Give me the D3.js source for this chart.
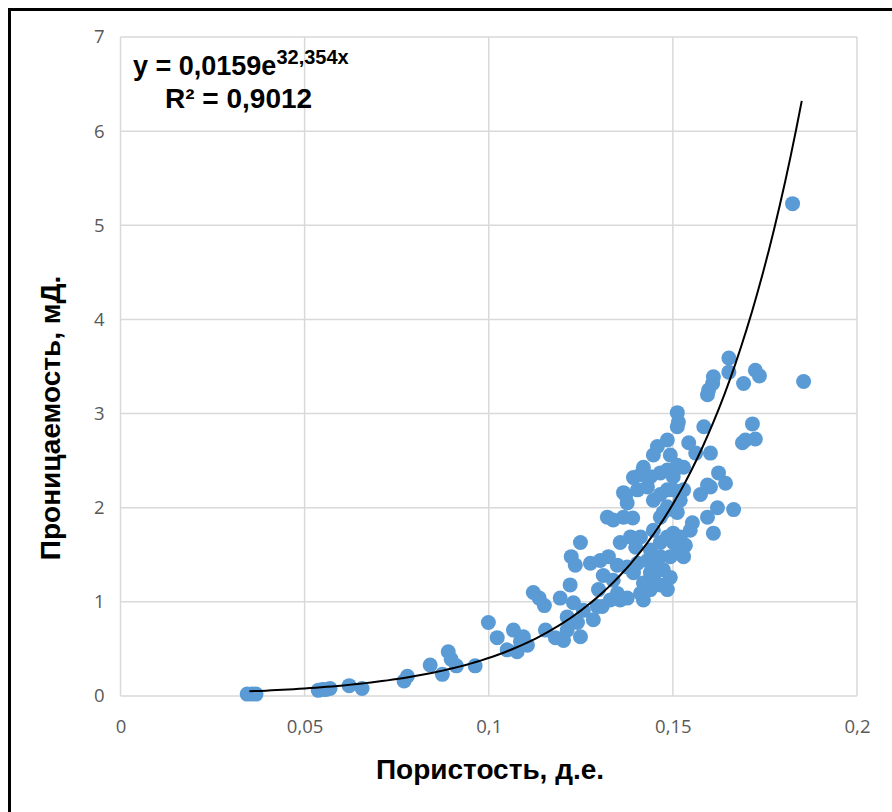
<!DOCTYPE html>
<html>
<head>
<meta charset="utf-8">
<script src="https://cdn.jsdelivr.net/npm/d3@7"></script>
<style>
  body { margin: 0; background: #fff; }
  .tick text { font-family: "Open Sans", "Liberation Sans", Arial, sans-serif; fill: #595959; font-size: 18.5px; }
</style>
</head>
<body>
<svg></svg>
<script>
// porosity (д.е.) and permeability (мД)
const porosity = [
  0.0344, 0.0357, 0.0368, 0.0537, 0.0548, 0.0558, 0.0569, 0.0621, 0.0656, 0.0770,
  0.0779, 0.0841, 0.0874, 0.0890, 0.0898, 0.0912, 0.0963, 0.0999, 0.1023, 0.1050,
  0.1067, 0.1077, 0.1086, 0.1094, 0.1105, 0.1121, 0.1137, 0.1151, 0.1154, 0.1181,
  0.1194, 0.1203, 0.1213, 0.1213, 0.1221, 0.1224, 0.1230, 0.1235, 0.1241, 0.1249,
  0.1249, 0.1257, 0.1276, 0.1284, 0.1295, 0.1298, 0.1303, 0.1308, 0.1322, 0.1325,
  0.1338, 0.1338, 0.1349, 0.1349, 0.1357, 0.1357, 0.1366, 0.1366, 0.1376, 0.1376,
  0.1376, 0.1385, 0.1391, 0.1393, 0.1393, 0.1399, 0.1404, 0.1404, 0.1412, 0.1412,
  0.1412, 0.1420, 0.1420, 0.1431, 0.1431, 0.1439, 0.1439, 0.1439, 0.1447, 0.1447,
  0.1447, 0.1447, 0.1458, 0.1458, 0.1466, 0.1466, 0.1466, 0.1466, 0.1466, 0.1474,
  0.1474, 0.1485, 0.1485, 0.1485, 0.1485, 0.1485, 0.1493, 0.1493, 0.1493, 0.1501,
  0.1501, 0.1501, 0.1501, 0.1501, 0.1512, 0.1515, 0.1512, 0.1512, 0.1512, 0.1512,
  0.1520, 0.1520, 0.1529, 0.1529, 0.1529, 0.1543, 0.1553, 0.1562, 0.1575, 0.1584,
  0.1594, 0.1597, 0.1608, 0.1610, 0.1594, 0.1594, 0.1602, 0.1602, 0.1610, 0.1624,
  0.1621, 0.1643, 0.1652, 0.1652, 0.1665, 0.1692, 0.1689, 0.1697, 0.1716, 0.1724,
  0.1724, 0.1735, 0.1825, 0.1855, 0.1372, 0.1420, 0.1439, 0.1466, 0.1485, 0.1534,
  0.1547, 0.1311, 0.1330
];
const permeability = [
  0.02, 0.02, 0.02, 0.06, 0.07, 0.07, 0.08, 0.11, 0.08, 0.16,
  0.21, 0.33, 0.23, 0.47, 0.39, 0.32, 0.32, 0.78, 0.62, 0.49,
  0.70, 0.47, 0.58, 0.63, 0.54, 1.10, 1.04, 0.96, 0.70, 0.62,
  1.04, 0.59, 0.84, 0.70, 1.18, 1.48, 0.99, 1.39, 0.78, 1.63,
  0.63, 0.91, 1.41, 0.81, 0.95, 1.13, 1.44, 0.95, 1.90, 1.48,
  1.87, 1.23, 1.39, 1.09, 1.63, 1.02, 2.16, 1.90, 2.05, 1.37,
  1.04, 1.69, 1.89, 2.32, 1.31, 1.58, 1.41, 2.19, 2.35, 1.69,
  1.09, 2.43, 1.20, 2.22, 1.44, 2.33, 1.55, 1.31, 2.56, 2.08,
  1.76, 1.26, 2.65, 1.36, 2.37, 2.14, 1.90, 1.63, 1.48, 1.95,
  1.34, 2.72, 2.40, 2.19, 2.01, 1.69, 2.56, 1.48, 1.26, 2.33,
  2.19, 1.98, 1.73, 1.63, 3.01, 2.91, 2.86, 2.45, 1.95, 1.58,
  2.08, 1.69, 2.43, 2.19, 1.48, 2.69, 1.84, 2.58, 2.14, 2.86,
  3.20, 3.25, 3.32, 3.39, 2.24, 1.90, 2.58, 2.22, 1.73, 2.37,
  2.00, 2.26, 3.59, 3.44, 1.98, 3.32, 2.69, 2.72, 2.89, 2.73,
  3.46, 3.40, 5.23, 3.34, 2.13, 1.02, 1.13, 1.18, 1.13, 1.60,
  1.76, 1.28, 1.02
];
const xTicks = [0, 0.05, 0.1, 0.15, 0.2];
const yTicks = [0, 1, 2, 3, 4, 5, 6, 7];
const trendA = 0.0159;
const trendB = 32.354;
const trendRange = [0.035, 0.185];
const r2 = "0,9012";

const width = 892, height = 812;
const plot = { left: 120.5, right: 857, top: 37, bottom: 696 };
const boldFont = '"Liberation Sans", Arial, sans-serif';

const svg = d3.select('svg').attr('width', width).attr('height', height);

const x = d3.scaleLinear().domain([0, 0.2]).range([plot.left, plot.right]);
const y = d3.scaleLinear().domain([0, 7]).range([plot.bottom, plot.top]);
const fmt = v => String(v).replace('.', ',');

// outer frame
svg.append('rect')
  .attr('x', 9.5).attr('y', 9.5).attr('width', 900).attr('height', 900)
  .attr('fill', 'none').attr('stroke', '#000').attr('stroke-width', 3);

// gridlines
svg.append('g')
  .selectAll('line').data(xTicks).join('line')
  .attr('x1', d => x(d)).attr('x2', d => x(d))
  .attr('y1', plot.top).attr('y2', plot.bottom)
  .attr('stroke', '#d9d9d9').attr('stroke-width', 1.5);
svg.append('g')
  .selectAll('line').data(yTicks).join('line')
  .attr('x1', plot.left).attr('x2', plot.right)
  .attr('y1', d => y(d)).attr('y2', d => y(d))
  .attr('stroke', '#d9d9d9').attr('stroke-width', 1.5);

// axes (labels only)
const xAxis = svg.append('g')
  .attr('transform', `translate(0,${plot.bottom})`)
  .call(d3.axisBottom(x).tickValues(xTicks).tickFormat(fmt).tickSize(0).tickPadding(24));
xAxis.select('.domain').remove();

const yAxis = svg.append('g')
  .attr('transform', `translate(${plot.left},0)`)
  .call(d3.axisLeft(y).tickValues(yTicks).tickFormat(fmt).tickSize(0).tickPadding(16));
yAxis.select('.domain').remove();

// points
const points = porosity.map((p, i) => ({ x: p, y: permeability[i] }));
svg.append('g')
  .selectAll('circle').data(points).join('circle')
  .attr('cx', d => x(d.x)).attr('cy', d => y(d.y))
  .attr('r', 7.5).attr('fill', '#5b9bd5');

// exponential trend line
const trend = d3.range(0, 101).map(i => {
  const xv = trendRange[0] + (trendRange[1] - trendRange[0]) * i / 100;
  return [xv, trendA * Math.exp(trendB * xv)];
});
svg.append('path')
  .datum(trend)
  .attr('fill', 'none').attr('stroke', '#000').attr('stroke-width', 2)
  .attr('d', d3.line().x(d => x(d[0])).y(d => y(d[1])));

// equation label
const eq = svg.append('text')
  .attr('x', 133).attr('y', 75)
  .attr('font-family', boldFont)
  .attr('font-weight', 'bold').attr('font-size', 27).attr('fill', '#000');
eq.append('tspan').text('y = 0,0159e');
eq.append('tspan').attr('dy', -11).attr('font-size', 20).text('32,354x');

svg.append('text')
  .attr('x', 165).attr('y', 108)
  .attr('font-family', boldFont)
  .attr('font-weight', 'bold').attr('font-size', 28).attr('fill', '#000')
  .text('R² = ' + r2);

// axis titles
svg.append('text')
  .attr('x', 490).attr('y', 779).attr('text-anchor', 'middle')
  .attr('font-family', boldFont)
  .attr('font-weight', 'bold').attr('font-size', 28).attr('fill', '#000')
  .text('Пористость, д.е.');

svg.append('text')
  .attr('transform', 'translate(60,418) rotate(-90)').attr('text-anchor', 'middle')
  .attr('font-family', boldFont)
  .attr('font-weight', 'bold').attr('font-size', 28).attr('fill', '#000')
  .text('Проницаемость, мД.');
</script>
</body>
</html>
